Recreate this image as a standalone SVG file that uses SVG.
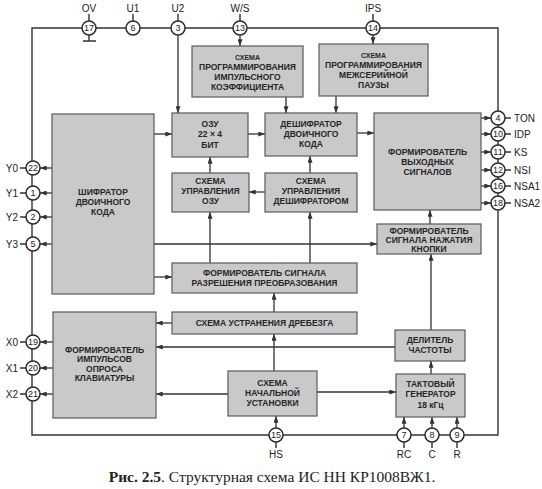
<svg xmlns="http://www.w3.org/2000/svg" width="542" height="489" viewBox="0 0 542 489">
<style>
.b{fill:#c9c9c9;stroke:#5a5a5a;stroke-width:1.2}
.t{font-family:"Liberation Sans",Arial,sans-serif;font-weight:bold;font-size:8.5px;fill:#262626;text-anchor:middle}
.s{font-size:7px}
.p{fill:#fff;stroke:#2a2a2a;stroke-width:1.5}
.n{font-family:"Liberation Sans",Arial,sans-serif;font-size:9px;fill:#222;text-anchor:middle}
.l{font-family:"Liberation Sans",Arial,sans-serif;font-size:10px;fill:#222}
.w{fill:none;stroke:#333;stroke-width:1.4}
.c{fill:none;stroke:#333;stroke-width:1.3;marker-end:url(#a)}
</style>
<defs>
<marker id="a" viewBox="0 0 8 6" refX="8" refY="3" markerWidth="7" markerHeight="5" markerUnits="userSpaceOnUse" orient="auto"><path d="M0,0L8,3L0,6z" fill="#333"/></marker>
</defs>
<rect width="542" height="489" fill="#fff"/>
<g id="connectors">
<path class="w" d="M32,28H498V435H32Z"/>
<path class="w" d="M89,35V41M83,41H96"/>
<path class="c" d="M240,35V46"/>
<path class="c" d="M373,35V44"/>
<path class="c" d="M178,35V113"/>
<path class="c" d="M286,97V113"/>
<path class="c" d="M336,96V113"/>
<path class="c" d="M154,134H172"/>
<path class="c" d="M248,134H265"/>
<path class="c" d="M357,133H374"/>
<path class="c" d="M265,192H249"/>
<path class="c" d="M210,173V157"/>
<path class="c" d="M310,173V156"/>
<path class="c" d="M210,263V212"/>
<path class="c" d="M310,263V212"/>
<path class="c" d="M154,244H377"/>
<path class="c" d="M154,277H172"/>
<path class="c" d="M274,312V293"/>
<path class="c" d="M274,371V334"/>
<path class="c" d="M172,323H156"/>
<path class="c" d="M395,347H156"/>
<path class="c" d="M228,394H156"/>
<path class="c" d="M317,392H396"/>
<path class="c" d="M431,374V361"/>
<path class="c" d="M431,330V254"/>
<path class="c" d="M430,224V210"/>
<path class="c" d="M276,428V416"/>
<path class="c" d="M404,428V417"/>
<path class="c" d="M432,428V417"/>
<path class="c" d="M457,428V417"/>
<path class="c" d="M481,118H491"/>
<path class="c" d="M481,134H491"/>
<path class="c" d="M481,152H491"/>
<path class="c" d="M481,170H491"/>
<path class="c" d="M481,186H491"/>
<path class="c" d="M481,203H491"/>
<path class="c" d="M52,168H40"/>
<path class="c" d="M52,193H40"/>
<path class="c" d="M52,217H40"/>
<path class="c" d="M52,244H40"/>
<path class="c" d="M53,342H40"/>
<path class="c" d="M53,368H40"/>
<path class="c" d="M53,394H40"/>
<path class="w" d="M89,14V21M133,14V21M178,14V21M240,14V21M373,14V21"/>
<path class="w" d="M505,118H511M505,134H511M505,152H511M505,170H511M505,186H511M505,203H511"/>
<path class="w" d="M20,168H26M20,193H26M20,217H26M20,244H26M20,342H26M20,368H26M20,394H26"/>
<path class="w" d="M276,442V448M404,442V448M432,442V448M457,442V448"/>
</g>
<g id="prog-imp"><rect class="b" x="192" y="46" width="111" height="51"/><text class="t"><tspan class="s" x="247.5" y="60">СХЕМА</tspan><tspan x="247.5" y="70">ПРОГРАММИРОВАНИЯ</tspan><tspan x="247.5" y="80">ИМПУЛЬСНОГО</tspan><tspan x="247.5" y="90">КОЭФФИЦИЕНТА</tspan></text></g>
<g id="prog-pause"><rect class="b" x="319" y="44" width="109" height="52"/><text class="t"><tspan class="s" x="373.5" y="58">СХЕМА</tspan><tspan x="373.5" y="68">ПРОГРАММИРОВАНИЯ</tspan><tspan x="373.5" y="78">МЕЖСЕРИЙНОЙ</tspan><tspan x="373.5" y="88">ПАУЗЫ</tspan></text></g>
<g id="ozu"><rect class="b" x="172" y="113" width="76" height="44"/><text class="t"><tspan x="210" y="127">ОЗУ</tspan><tspan x="210" y="137">22 × 4</tspan><tspan x="210" y="148">БИТ</tspan></text></g>
<g id="deshifrator"><rect class="b" x="265" y="113" width="92" height="43"/><text class="t"><tspan x="311" y="127">ДЕШИФРАТОР</tspan><tspan x="311" y="137">ДВОИЧНОГО</tspan><tspan x="311" y="147">КОДА</tspan></text></g>
<g id="upr-ozu"><rect class="b" x="172" y="173" width="77" height="39"/><text class="t"><tspan x="210.5" y="184">СХЕМА</tspan><tspan x="210.5" y="194">УПРАВЛЕНИЯ</tspan><tspan x="210.5" y="204">ОЗУ</tspan></text></g>
<g id="upr-desh"><rect class="b" x="265" y="173" width="92" height="39"/><text class="t"><tspan x="311" y="184">СХЕМА</tspan><tspan x="311" y="194">УПРАВЛЕНИЯ</tspan><tspan x="311" y="204">ДЕШИФРАТОРОМ</tspan></text></g>
<g id="shifrator"><rect class="b" x="52" y="114" width="102" height="180"/><text class="t"><tspan x="103" y="195">ШИФРАТОР</tspan><tspan x="103" y="205">ДВОИЧНОГО</tspan><tspan x="103" y="215">КОДА</tspan></text></g>
<g id="form-vyh"><rect class="b" x="374" y="113" width="107" height="97"/><text class="t"><tspan x="427.5" y="155">ФОРМИРОВАТЕЛЬ</tspan><tspan x="427.5" y="165">ВЫХОДНЫХ</tspan><tspan x="427.5" y="175">СИГНАЛОВ</tspan></text></g>
<g id="form-knopki"><rect class="b" x="377" y="224" width="104" height="30"/><text class="t"><tspan x="429" y="234">ФОРМИРОВАТЕЛЬ</tspan><tspan x="429" y="243">СИГНАЛА НАЖАТИЯ</tspan><tspan x="429" y="252">КНОПКИ</tspan></text></g>
<g id="form-razr"><rect class="b" x="172" y="263" width="185" height="30"/><text class="t"><tspan x="264.5" y="276">ФОРМИРОВАТЕЛЬ СИГНАЛА</tspan><tspan x="264.5" y="286">РАЗРЕШЕНИЯ ПРЕОБРАЗОВАНИЯ</tspan></text></g>
<g id="ustr-drebezga"><rect class="b" x="172" y="312" width="185" height="22"/><text class="t" x="264.5" y="326">СХЕМА УСТРАНЕНИЯ ДРЕБЕЗГА</text></g>
<g id="form-opros"><rect class="b" x="53" y="312" width="103" height="106"/><text class="t"><tspan x="104.5" y="353">ФОРМИРОВАТЕЛЬ</tspan><tspan x="104.5" y="362">ИМПУЛЬСОВ</tspan><tspan x="104.5" y="372">ОПРОСА</tspan><tspan x="104.5" y="381">КЛАВИАТУРЫ</tspan></text></g>
<g id="delitel"><rect class="b" x="395" y="330" width="70" height="31"/><text class="t"><tspan x="430" y="343">ДЕЛИТЕЛЬ</tspan><tspan x="430" y="353">ЧАСТОТЫ</tspan></text></g>
<g id="nach-ust"><rect class="b" x="228" y="371" width="89" height="45"/><text class="t"><tspan x="272.5" y="386">СХЕМА</tspan><tspan x="272.5" y="396">НАЧАЛЬНОЙ</tspan><tspan x="272.5" y="406">УСТАНОВКИ</tspan></text></g>
<g id="takt"><rect class="b" x="396" y="374" width="69" height="43"/><text class="t"><tspan x="430.5" y="387">ТАКТОВЫЙ</tspan><tspan x="430.5" y="397">ГЕНЕРАТОР</tspan><tspan x="430.5" y="408">18 кГц</tspan></text></g>
<g id="pins-top">
<circle class="p" cx="89" cy="28" r="7"/><text class="n" x="89" y="31">17</text><text class="l" x="89" y="12" text-anchor="middle">OV</text>
<circle class="p" cx="133" cy="28" r="7"/><text class="n" x="133" y="31">6</text><text class="l" x="133" y="12" text-anchor="middle">U1</text>
<circle class="p" cx="178" cy="28" r="7"/><text class="n" x="178" y="31">3</text><text class="l" x="178" y="12" text-anchor="middle">U2</text>
<circle class="p" cx="240" cy="28" r="7"/><text class="n" x="240" y="31">13</text><text class="l" x="240" y="12" text-anchor="middle">W/S</text>
<circle class="p" cx="373" cy="28" r="7"/><text class="n" x="373" y="31">14</text><text class="l" x="373" y="12" text-anchor="middle">IPS</text>
</g>
<g id="pins-right">
<circle class="p" cx="498" cy="118" r="7"/><text class="n" x="498" y="121">4</text><text class="l" x="514" y="122">TON</text>
<circle class="p" cx="498" cy="134" r="7"/><text class="n" x="498" y="137">10</text><text class="l" x="514" y="138">IDP</text>
<circle class="p" cx="498" cy="152" r="7"/><text class="n" x="498" y="155">11</text><text class="l" x="514" y="156">KS</text>
<circle class="p" cx="498" cy="170" r="7"/><text class="n" x="498" y="173">12</text><text class="l" x="514" y="174">NSI</text>
<circle class="p" cx="498" cy="186" r="7"/><text class="n" x="498" y="189">16</text><text class="l" x="514" y="190">NSA1</text>
<circle class="p" cx="498" cy="203" r="7"/><text class="n" x="498" y="206">18</text><text class="l" x="514" y="207">NSA2</text>
</g>
<g id="pins-left">
<circle class="p" cx="33" cy="168" r="7"/><text class="n" x="33" y="171">22</text><text class="l" x="18" y="172" text-anchor="end">Y0</text>
<circle class="p" cx="33" cy="193" r="7"/><text class="n" x="33" y="196">1</text><text class="l" x="18" y="197" text-anchor="end">Y1</text>
<circle class="p" cx="33" cy="217" r="7"/><text class="n" x="33" y="220">2</text><text class="l" x="18" y="221" text-anchor="end">Y2</text>
<circle class="p" cx="33" cy="244" r="7"/><text class="n" x="33" y="247">5</text><text class="l" x="18" y="248" text-anchor="end">Y3</text>
<circle class="p" cx="33" cy="342" r="7"/><text class="n" x="33" y="345">19</text><text class="l" x="18" y="346" text-anchor="end">X0</text>
<circle class="p" cx="33" cy="368" r="7"/><text class="n" x="33" y="371">20</text><text class="l" x="18" y="372" text-anchor="end">X1</text>
<circle class="p" cx="33" cy="394" r="7"/><text class="n" x="33" y="397">21</text><text class="l" x="18" y="398" text-anchor="end">X2</text>
</g>
<g id="pins-bottom">
<circle class="p" cx="276" cy="435" r="7"/><text class="n" x="276" y="438">15</text><text class="l" x="276" y="458" text-anchor="middle">HS</text>
<circle class="p" cx="404" cy="435" r="7"/><text class="n" x="404" y="438">7</text><text class="l" x="404" y="458" text-anchor="middle">RC</text>
<circle class="p" cx="432" cy="435" r="7"/><text class="n" x="432" y="438">8</text><text class="l" x="432" y="458" text-anchor="middle">C</text>
<circle class="p" cx="457" cy="435" r="7"/><text class="n" x="457" y="438">9</text><text class="l" x="457" y="458" text-anchor="middle">R</text>
</g>
<text x="272" y="482" text-anchor="middle" font-family="'Liberation Serif','Times New Roman',serif" font-size="15.5" fill="#222"><tspan font-weight="bold">Рис. 2.5</tspan>. Структурная схема ИС НН КР1008ВЖ1.</text>
</svg>
